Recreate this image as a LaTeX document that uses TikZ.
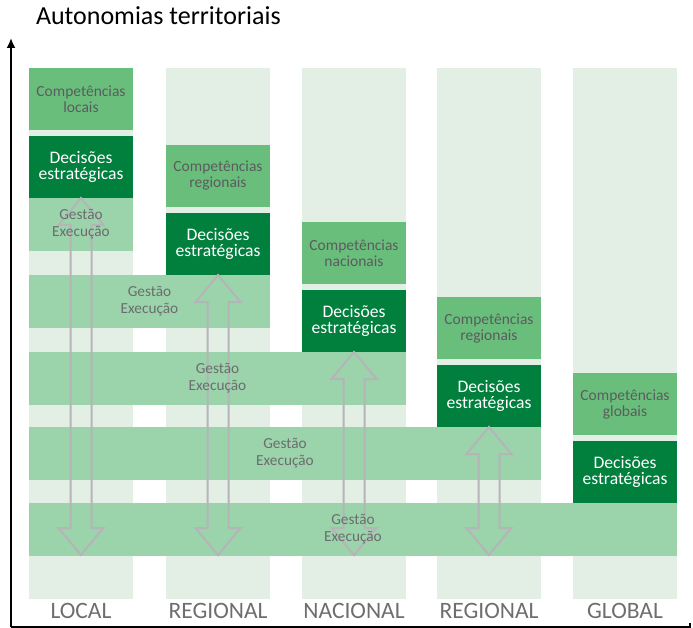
\documentclass[tikz,border=0pt]{standalone}
\usepackage{fontspec}
\setmainfont{Carlito}
\usetikzlibrary{positioning,calc,arrows.meta}
\definecolor{colbg}{RGB}{227,238,229}
\definecolor{compgreen}{RGB}{106,190,123}
\definecolor{decgreen}{RGB}{0,127,61}
\definecolor{bandgreen}{RGB}{155,211,171}
\definecolor{txtgray}{RGB}{90,92,94}
\definecolor{gesgray}{RGB}{108,108,110}
\definecolor{labgray}{RGB}{110,110,112}
\definecolor{arrgray}{RGB}{180,180,185}
\newcommand\twoway[2]{%
  \draw[twoarrow] (#1) -- ++(22.5,27) -- ++(-12,0) -- ($(#2)+(10.5,-27)$) -- ++(12,0) -- (#2)
    -- ++(-22.5,-27) -- ++(12,0) -- ($(#1)+(-10.5,27)$) -- ++(-12,0) -- cycle;}
\begin{document}
\begin{tikzpicture}[x=1pt,y=-1pt,
    every node/.style={inner sep=0pt,outer sep=0pt},
    colbox/.style={fill=colbg,minimum width=104pt,minimum height=531pt,anchor=north west},
    compbox/.style={fill=compgreen,text=txtgray,minimum width=104pt,minimum height=62pt,
      anchor=north west,align=center,font=\fontsize{15.5}{16}\selectfont},
    decbox/.style={fill=decgreen,text=white,minimum width=104pt,minimum height=62pt,
      below=6pt of #1,align=center,font=\fontsize{17.6}{16.5}\selectfont},
    bandbox/.style={fill=bandgreen,minimum height=53pt,anchor=north west},
    gesttext/.style={text=gesgray,align=center,font=\fontsize{15.3}{17}\selectfont},
    collabel/.style={text=labgray,anchor=base,font=\fontsize{23.5}{24}\selectfont},
    twoarrow/.style={draw=arrgray,line width=2pt},
    axis/.style={line width=1.8pt}]
  \useasboundingbox (0,0) rectangle (693,628);
  \node[anchor=base west,font=\fontsize{26}{28}\selectfont] (title) at (36,25) {Autonomias territoriais};
  \node[colbox] (col1) at (29,68) {};
  \node[colbox] (col2) at (166,68) {};
  \node[colbox] (col3) at (302,68) {};
  \node[colbox] (col4) at (437,68) {};
  \node[colbox] (col5) at (573,68) {};
  \node[compbox] (comp1) at (29,68) {Competências\\locais};
  \node[decbox=comp1] (dec1) {Decisões\\estratégicas};
  \node[compbox] (comp2) at (166,145) {Competências\\regionais};
  \node[decbox=comp2] (dec2) {Decisões\\estratégicas};
  \node[compbox] (comp3) at (302,222) {Competências\\nacionais};
  \node[decbox=comp3] (dec3) {Decisões\\estratégicas};
  \node[compbox] (comp4) at (437,297) {Competências\\regionais};
  \node[decbox=comp4] (dec4) {Decisões\\estratégicas};
  \node[compbox] (comp5) at (573,373) {Competências\\globais};
  \node[decbox=comp5] (dec5) {Decisões\\estratégicas};
  \node[bandbox,minimum width=104pt] (band1) at (dec1.south west) {};
  \node[bandbox,minimum width=241pt] (band2) at (col1.west |- dec2.south) {};
  \node[bandbox,minimum width=377pt] (band3) at (col1.west |- dec3.south) {};
  \node[bandbox,minimum width=512pt] (band4) at (col1.west |- dec4.south) {};
  \node[bandbox,minimum width=648pt] (band5) at (col1.west |- dec5.south) {};
  \coordinate (foot1) at ($(dec1.south |- band5.south)+(0,-1)$);
  \coordinate (foot2) at ($(dec2.south |- band5.south)+(0,-1)$);
  \coordinate (foot3) at ($(dec3.south |- band5.south)+(0,-1)$);
  \coordinate (foot4) at ($(dec4.south |- band5.south)+(0,-1)$);
  \twoway{dec1.south}{foot1}
  \twoway{dec2.south}{foot2}
  \twoway{dec3.south}{foot3}
  \twoway{dec4.south}{foot4}
  \node[gesttext] (gest1) at (band1.center) {Gestão\\Execução};
  \node[gesttext] (gest2) at (band2.center) {Gestão\\Execução};
  \node[gesttext] (gest3) at (band3.center) {Gestão\\Execução};
  \node[gesttext] (gest4) at (band4.center) {Gestão\\Execução};
  \node[gesttext] (gest5) at (band5.center) {Gestão\\Execução};
  \coordinate (base) at (0,618);
  \node[collabel] (lab1) at (col1.center |- base) {LOCAL};
  \node[collabel] (lab2) at (col2.center |- base) {REGIONAL};
  \node[collabel] (lab3) at (col3.center |- base) {NACIONAL};
  \node[collabel] (lab4) at (col4.center |- base) {REGIONAL};
  \node[collabel] (lab5) at (col5.center |- base) {GLOBAL};
  \coordinate (origin) at (11,627);
  \coordinate (ytip) at (11,38);
  \coordinate (xend) at (690,627);
  \draw[axis,-{Latex[length=10pt,width=9pt]}] (origin) -- (ytip);
  \draw[axis] (origin) -- (xend) -- ++(0,-4);
\end{tikzpicture}
\end{document}
